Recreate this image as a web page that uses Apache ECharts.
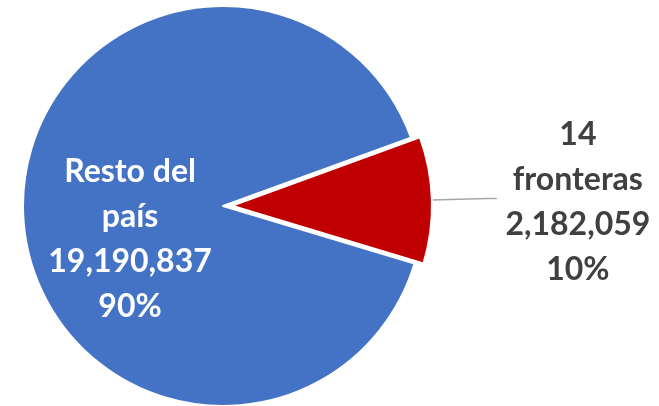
<!DOCTYPE html>
<html>
<head>
<meta charset="utf-8">
<script src="https://cdn.jsdelivr.net/npm/echarts@6/dist/echarts.min.js"></script>
<style>
html,body{margin:0;padding:0;background:#fff;}
#chart{width:659px;height:406px;}
</style>
</head>
<body>
<div id="chart"></div>
<script>
const categories = ['14 fronteras', 'Resto del país'];
const values = [2182059, 19190837];
const colors = ['#C00000', '#4472C4'];

function splitName(n) { return n.replace(/ (\S+)$/, '\n$1'); }
function fmt(p) {
  return splitName(p.name) + '\n' + p.value.toLocaleString('en-US') + '\n' + Math.round(p.percent) + '%';
}

const chart = echarts.init(document.getElementById('chart'), null, {renderer: 'canvas'});
chart.setOption({
  animation: false,
  series: [{
    type: 'pie',
    center: [223, 206],
    radius: [0, 200],
    startAngle: 20,
    clockwise: true,
    selectedMode: 'single',
    selectedOffset: 9,
    avoidLabelOverlap: false,
    itemStyle: { borderColor: '#ffffff', borderWidth: 2 },
    data: categories.map((c, i) => ({
      name: c,
      value: values[i],
      selected: i === 0,
      itemStyle: { color: colors[i] },
      label: i === 0 ? {
        position: 'outside',
        padding: [8, 0, 0, 0],
        formatter: p => fmt(p).split('\n').map(s => '{a|' + s + '}').join('\n'),
        rich: { a: { width: 152, align: 'center', fontFamily: 'Lato', fontWeight: 'bold', fontSize: 32, lineHeight: 45, color: '#404040' } }
      } : {
        position: 'inside',
        formatter: fmt,
        color: '#ffffff',
        fontFamily: 'Lato', fontWeight: 'bold', fontSize: 32, lineHeight: 45
      },
      labelLine: i === 0 ? { show: true, length: 55, length2: 10, lineStyle: { color: '#A6A6A6', width: 1.5 } } : { show: false }
    })),
    labelLayout: function (params) {
      if (params.dataIndex === 1) return { dx: 10, dy: 30 };
      return {};
    },
    emphasis: { disabled: true }
  }]
});
</script>
</body>
</html>
